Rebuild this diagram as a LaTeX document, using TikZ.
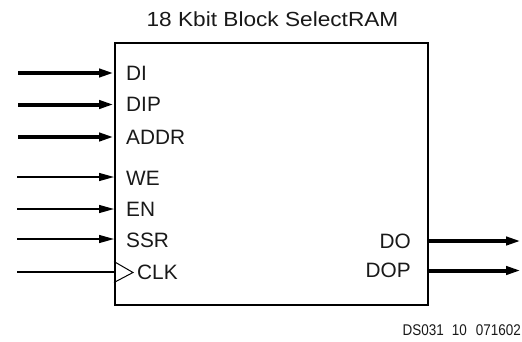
\documentclass[tikz,border=0pt]{standalone}
\usepackage{fontspec}
\setmainfont{Liberation Sans}
\newfontfamily\titlefont{Liberation Sans}[FakeStretch=1.11]
\newfontfamily\footfont{Liberation Sans}[FakeStretch=0.87]
\usetikzlibrary{arrows.meta,calc}
\begin{document}
\begin{tikzpicture}[x=1pt,y=-1pt,
  lbl/.style={font=\fontsize{20.8}{21}\selectfont, inner sep=0pt, text=black!90},
  bus/.style={line width=4pt, -{Triangle[length=15pt,width=8pt]}},
  sig/.style={line width=1.3pt, -{Triangle[length=15pt,width=8pt]}},
  plain/.style={line width=1.3pt}]
\useasboundingbox (0,0) rectangle (522,341);
\node[draw, line width=2pt, minimum width=312.5pt, minimum height=261.5pt, anchor=north west, inner sep=0pt] (ram) at (114,42) {};
\node[lbl, font=\titlefont\fontsize{20.4}{21}\selectfont] (title) at (272.5,19.5) {18 Kbit Block SelectRAM};
% input labels
\node[lbl, anchor=west] (lDI) at (126,73) {DI};
\node[lbl, anchor=west] (lDIP) at (126,104.5) {DIP};
\node[lbl, anchor=west] (lADDR) at (126,137.5) {ADDR};
\node[lbl, anchor=west] (lWE) at (126,178) {WE};
\node[lbl, anchor=west] (lEN) at (126,209) {EN};
\node[lbl, anchor=west] (lSSR) at (126,240) {SSR};
\node[lbl, anchor=west] (lCLK) at (137,272) {CLK};
\node[lbl, anchor=east] (lDO) at (411,241.5) {DO};
\node[lbl, anchor=east] (lDOP) at (411,270.5) {DOP};
% input coordinates
\coordinate (iDI) at (18,73);
\coordinate (iDIP) at (18,104.5);
\coordinate (iADDR) at (18,137);
\coordinate (iWE) at (17,177);
\coordinate (iEN) at (17,209);
\coordinate (iSSR) at (17,239);
\coordinate (iCLK) at (17,272);
\coordinate (oDO) at (521,241);
\coordinate (oDOP) at (521,270.5);
\draw[bus] (iDI) -- (iDI -| ram.west);
\draw[bus] (iDIP) -- (iDIP -| ram.west);
\draw[bus] (iADDR) -- (iADDR -| ram.west);
\draw[sig] (iWE) -- (iWE -| ram.west);
\draw[sig] (iEN) -- (iEN -| ram.west);
\draw[sig] (iSSR) -- (iSSR -| ram.west);
\draw[plain] (iCLK) -- (iCLK -| ram.west);
\draw[line width=1pt, line join=miter] ($(iCLK -| ram.west)+(0,-10.5)$) -- (133,272.5) -- ($(iCLK -| ram.west)+(0,10.5)$);
\draw[bus] (oDO -| ram.east) -- (oDO);
\draw[bus] (oDOP -| ram.east) -- (oDOP);
\node[font=\footfont\fontsize{15.5}{16}\selectfont, inner sep=0pt, anchor=base east, text=black!90] (fig) at (521,335.5) {DS031\kern 8pt 10\kern 9pt 071602};
\end{tikzpicture}
\end{document}
